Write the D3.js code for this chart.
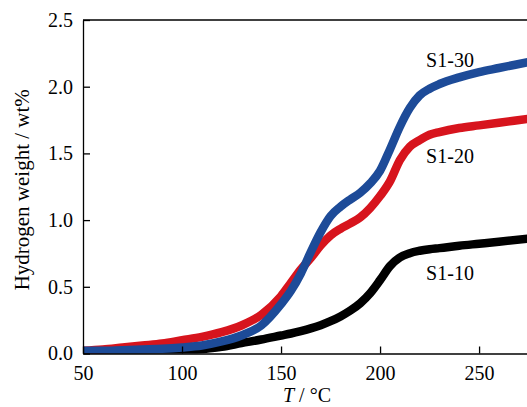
<!DOCTYPE html>
<html>
<head>
<meta charset="utf-8">
<script src="https://cdn.jsdelivr.net/npm/d3@7"></script>
<style>
  html, body { margin: 0; padding: 0; background: #fff; }
  svg text { font-family: "Liberation Serif", "Times New Roman", serif; fill: #000; }
</style>
</head>
<body>
<div id="chart"></div>
<script>
// --- Data ---
const temps = [50, 60, 70, 80, 90, 100, 110, 120, 130, 140, 150, 155, 160, 165, 170, 175,
               180, 185, 190, 195, 200, 205, 210, 215, 220, 225, 230, 240, 250, 260, 275];

const s10 = [0, 0, 0, 0, 0.005, 0.018, 0.032, 0.05, 0.078, 0.105, 0.135, 0.15, 0.168, 0.188, 0.212, 0.242,
             0.278, 0.322, 0.377, 0.452, 0.55, 0.655, 0.72, 0.752, 0.77, 0.782, 0.79, 0.808, 0.823, 0.838, 0.862];
const s20 = [0.02, 0.03, 0.045, 0.06, 0.075, 0.1, 0.125, 0.16, 0.21, 0.29, 0.43, 0.53, 0.63, 0.715, 0.81, 0.885,
             0.935, 0.975, 1.02, 1.09, 1.18, 1.29, 1.45, 1.55, 1.6, 1.64, 1.66, 1.69, 1.71, 1.73, 1.76];
const s30 = [0.02, 0.02, 0.025, 0.03, 0.035, 0.045, 0.06, 0.09, 0.135, 0.21, 0.37, 0.47, 0.6, 0.76, 0.91, 1.03,
             1.1, 1.155, 1.205, 1.275, 1.37, 1.53, 1.7, 1.84, 1.935, 1.985, 2.02, 2.07, 2.11, 2.14, 2.185];

const seriesNames = ["S1-10", "S1-20", "S1-30"];
const yTicks = [0, 0.5, 1.0, 1.5, 2.0, 2.5];
const xTicks = [50, 100, 150, 200, 250];

// --- Layout ---
const width = 527, height = 407;
const plotLeft = 83, plotRight = 527, plotTop = 20, plotBottom = 353.5;

const svg = d3.select("#chart").append("svg")
    .attr("width", width)
    .attr("height", height);

const x = d3.scaleLinear().domain([50, 274.2]).range([plotLeft, plotRight]);
const y = d3.scaleLinear().domain([0, 2.5]).range([plotBottom, plotTop]);

svg.append("clipPath").attr("id", "plot-clip")
  .append("rect")
    .attr("x", plotLeft).attr("y", plotTop)
    .attr("width", plotRight - plotLeft).attr("height", plotBottom - plotTop);

// series drawn black first, blue on top
const series = [
  { name: seriesNames[0], values: s10, color: "#000000", label: [450, 280] },
  { name: seriesNames[1], values: s20, color: "#d7141d", label: [450, 163] },
  { name: seriesNames[2], values: s30, color: "#1d4b98", label: [450, 67] }
];

const line = d3.line()
    .x((d, i) => x(temps[i]))
    .y(d => y(d))
    .curve(d3.curveMonotoneX);

const plot = svg.append("g").attr("clip-path", "url(#plot-clip)");
plot.selectAll("path")
  .data(series)
  .join("path")
    .attr("d", d => line(d.values))
    .attr("fill", "none")
    .attr("stroke", d => d.color)
    .attr("stroke-width", 8.5)
    .attr("stroke-linejoin", "round");

// --- Axes (ticks point inward) ---
const xAxis = svg.append("g")
    .attr("transform", `translate(0,${plotBottom})`)
    .call(d3.axisBottom(x).tickValues(xTicks).tickSizeInner(-7).tickSizeOuter(0).tickPadding(12)
      .tickFormat(d3.format("d")));

const yAxis = svg.append("g")
    .attr("transform", `translate(${plotLeft},0)`)
    .call(d3.axisLeft(y).tickValues(yTicks).tickSizeInner(-7).tickSizeOuter(0).tickPadding(10)
      .tickFormat(d3.format(".1f")));

[xAxis, yAxis].forEach(g => {
  g.select(".domain").attr("stroke", "#000").attr("stroke-width", 1.3);
  g.selectAll(".tick line").attr("stroke", "#000").attr("stroke-width", 1.3);
  g.selectAll(".tick text")
    .attr("font-family", "Liberation Serif, Times New Roman, serif")
    .attr("font-size", 20);
});

// top frame line
svg.append("line")
    .attr("x1", plotLeft).attr("x2", plotRight)
    .attr("y1", plotTop).attr("y2", plotTop)
    .attr("stroke", "#000").attr("stroke-width", 1.3);

// --- Series labels ---
svg.selectAll("text.series-label")
  .data(series)
  .join("text")
    .attr("class", "series-label")
    .attr("x", d => d.label[0])
    .attr("y", d => d.label[1])
    .attr("text-anchor", "middle")
    .attr("font-size", 20)
    .text(d => d.name);

// --- Axis titles ---
const xTitle = svg.append("text")
    .attr("x", 307)
    .attr("y", 402)
    .attr("text-anchor", "middle")
    .attr("font-size", 20);
xTitle.append("tspan").attr("font-style", "italic").text("T");
xTitle.append("tspan").text(" / °C");

svg.append("text")
    .attr("transform", `translate(29,${(plotTop + plotBottom) / 2 + 3}) rotate(-90)`)
    .attr("text-anchor", "middle")
    .attr("font-size", 21)
    .text("Hydrogen weight / wt%");
</script>
</body>
</html>
